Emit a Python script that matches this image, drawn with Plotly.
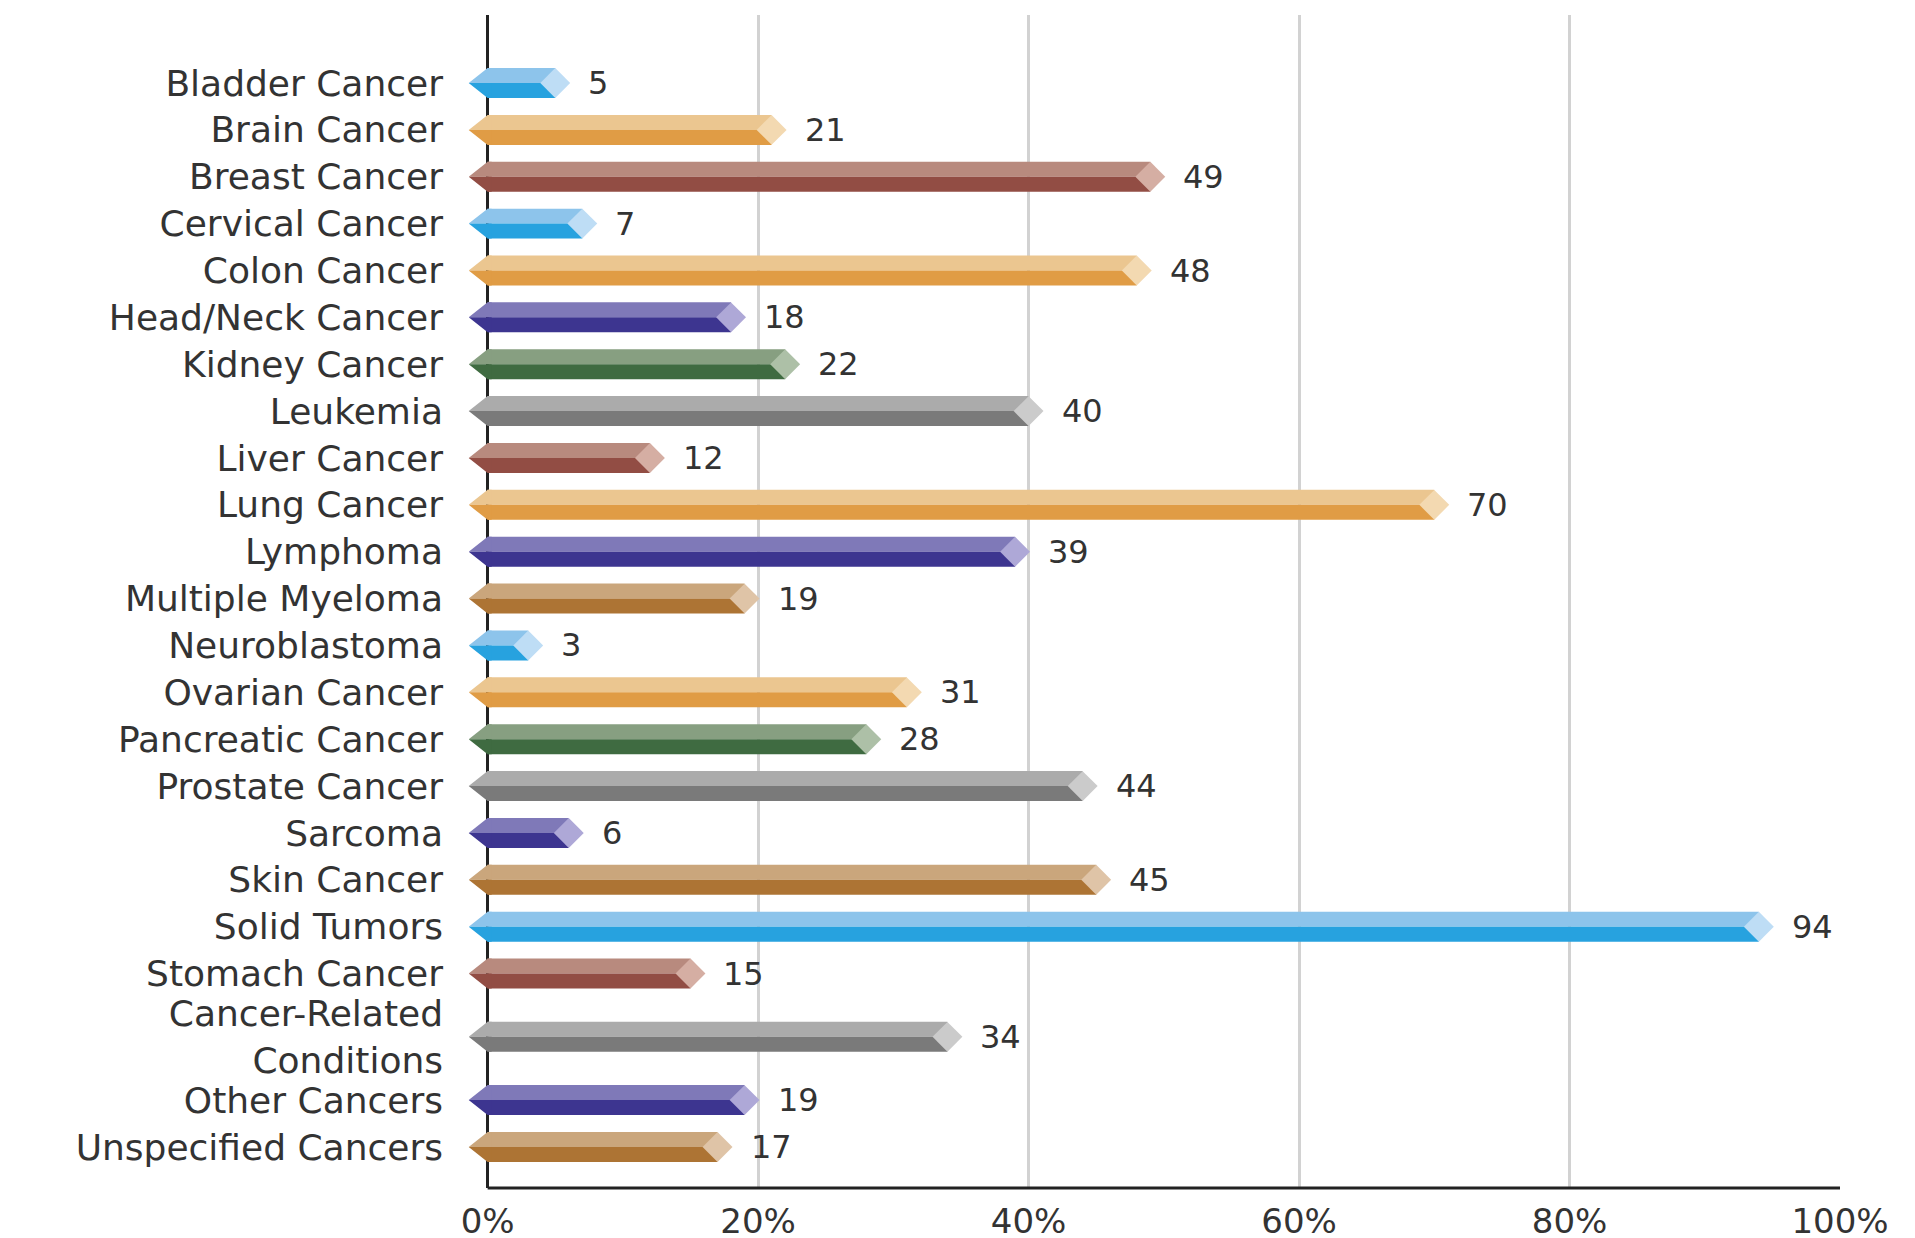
import plotly.graph_objects as go

# ---------------- data ----------------
categories = [
    "Bladder Cancer", "Brain Cancer", "Breast Cancer", "Cervical Cancer",
    "Colon Cancer", "Head/Neck Cancer", "Kidney Cancer", "Leukemia",
    "Liver Cancer", "Lung Cancer", "Lymphoma", "Multiple Myeloma",
    "Neuroblastoma", "Ovarian Cancer", "Pancreatic Cancer", "Prostate Cancer",
    "Sarcoma", "Skin Cancer", "Solid Tumors", "Stomach Cancer",
    "Cancer-Related<br>Conditions", "Other Cancers", "Unspecified Cancers",
]
values = [5, 21, 49, 7, 48, 18, 22, 40, 12, 70, 39, 19, 3, 31, 28, 44,
          6, 45, 94, 15, 34, 19, 17]
color_groups = ["blue", "orange", "red", "blue", "orange", "purple", "green",
                "gray", "red", "orange", "purple", "tan", "blue", "orange",
                "green", "gray", "purple", "tan", "blue", "red", "gray",
                "purple", "tan"]
x_tick_vals = [0, 20, 40, 60, 80, 100]
x_tick_text = ["0%", "20%", "40%", "60%", "80%", "100%"]

# ---------------- styles ----------------
palette = {  # (light top, dark bottom, tip)
    "blue":   ("#8DC4EB", "#27A2DF", "#BEDDF5"),
    "orange": ("#EBC690", "#E09C45", "#F3D9B1"),
    "red":    ("#B88A7E", "#924D44", "#D5AEA3"),
    "purple": ("#7F79B8", "#3D3590", "#AEA8D7"),
    "green":  ("#879F81", "#3F6B41", "#ADC0A7"),
    "gray":   ("#ABABAB", "#7A7A7A", "#CBCBCB"),
    "tan":    ("#CAA67C", "#AD7434", "#DFC4A7"),
}
FONT = "DejaVu Sans"
TXT = "#333333"
T = 0.32      # half thickness of a bar (row units)
L = 1.4       # length of the left point (x units)
EXTRA = 0.35  # extra row spacing per additional label line

# row positions: one unit per row, a little more around multi-line labels
lines = [c.count("<br>") + 1 for c in categories]
pos = [0.0]
for a, b in zip(lines[:-1], lines[1:]):
    pos.append(pos[-1] + 1 + EXTRA * (a - 1) + EXTRA * (b - 1))

light = [palette[g][0] for g in color_groups]
dark = [palette[g][1] for g in color_groups]
tip = [palette[g][2] for g in color_groups]

fig = go.Figure()

# bar bodies: light upper half, dark lower half
fig.add_trace(go.Bar(x=values, y=pos, orientation="h", width=T, offset=-T,
                     marker=dict(color=light, line=dict(width=0)),
                     hoverinfo="skip", showlegend=False))
fig.add_trace(go.Bar(x=values, y=pos, orientation="h", width=T, offset=0,
                     marker=dict(color=dark, line=dict(width=0)),
                     hovertemplate="%{x}<extra></extra>", showlegend=False))

# left pointed ends, grouped by colour
for g, (lc, dc, tc) in palette.items():
    lx, ly, dx, dy = [], [], [], []
    for i, grp in zip(pos, color_groups):
        if grp != g:
            continue
        lx += [-L, 0, 0.3, 0.3, None]
        ly += [i, i - T, i - T, i, None]
        dx += [-L, 0.3, 0.3, 0, None]
        dy += [i, i, i + T, i + T, None]
    if not lx:
        continue
    fig.add_trace(go.Scatter(x=lx, y=ly, mode="none", fill="toself",
                             fillcolor=lc, hoverinfo="skip", showlegend=False))
    fig.add_trace(go.Scatter(x=dx, y=dy, mode="none", fill="toself",
                             fillcolor=dc, hoverinfo="skip", showlegend=False))

# right diamond tips
fig.add_trace(go.Scatter(x=values, y=pos, mode="markers",
                         marker=dict(symbol="diamond", size=23, color=tip,
                                     line=dict(width=0)),
                         cliponaxis=False, hoverinfo="skip", showlegend=False))

# value labels
for v, i in zip(values, pos):
    fig.add_annotation(x=v, y=i, text=str(v), showarrow=False,
                       xanchor="left", yanchor="middle", xshift=31,
                       font=dict(family=FONT, size=32, color=TXT))

# bottom axis line from 0 to 100%
fig.add_shape(type="line", xref="x", yref="paper", x0=0, x1=100, y0=0, y1=0,
              line=dict(color="#222222", width=3))

fig.update_layout(
    width=1915, height=1238,
    margin=dict(l=458, r=83, t=7, b=58),
    paper_bgcolor="white", plot_bgcolor="white",
    barmode="overlay",
    font=dict(family=FONT, color=TXT),
    xaxis=dict(range=[-1.6, 100], tickvals=x_tick_vals, ticktext=x_tick_text,
               showgrid=True, gridcolor="#D2D2D2", gridwidth=2.5,
               zeroline=True, zerolinecolor="#222222", zerolinewidth=3,
               showline=False, ticks="", ticklabelstandoff=10,
               tickfont=dict(family=FONT, size=34, color=TXT),
               layer="below traces", automargin=False),
    yaxis=dict(range=[pos[-1] + 0.875, -1.451],
               tickvals=pos, ticktext=categories,
               showgrid=False, zeroline=False, showline=False, ticks="",
               ticklabelstandoff=22,
               tickfont=dict(family=FONT, size=36, color=TXT),
               layer="below traces", automargin=False),
)

fig.write_html("out.html")
